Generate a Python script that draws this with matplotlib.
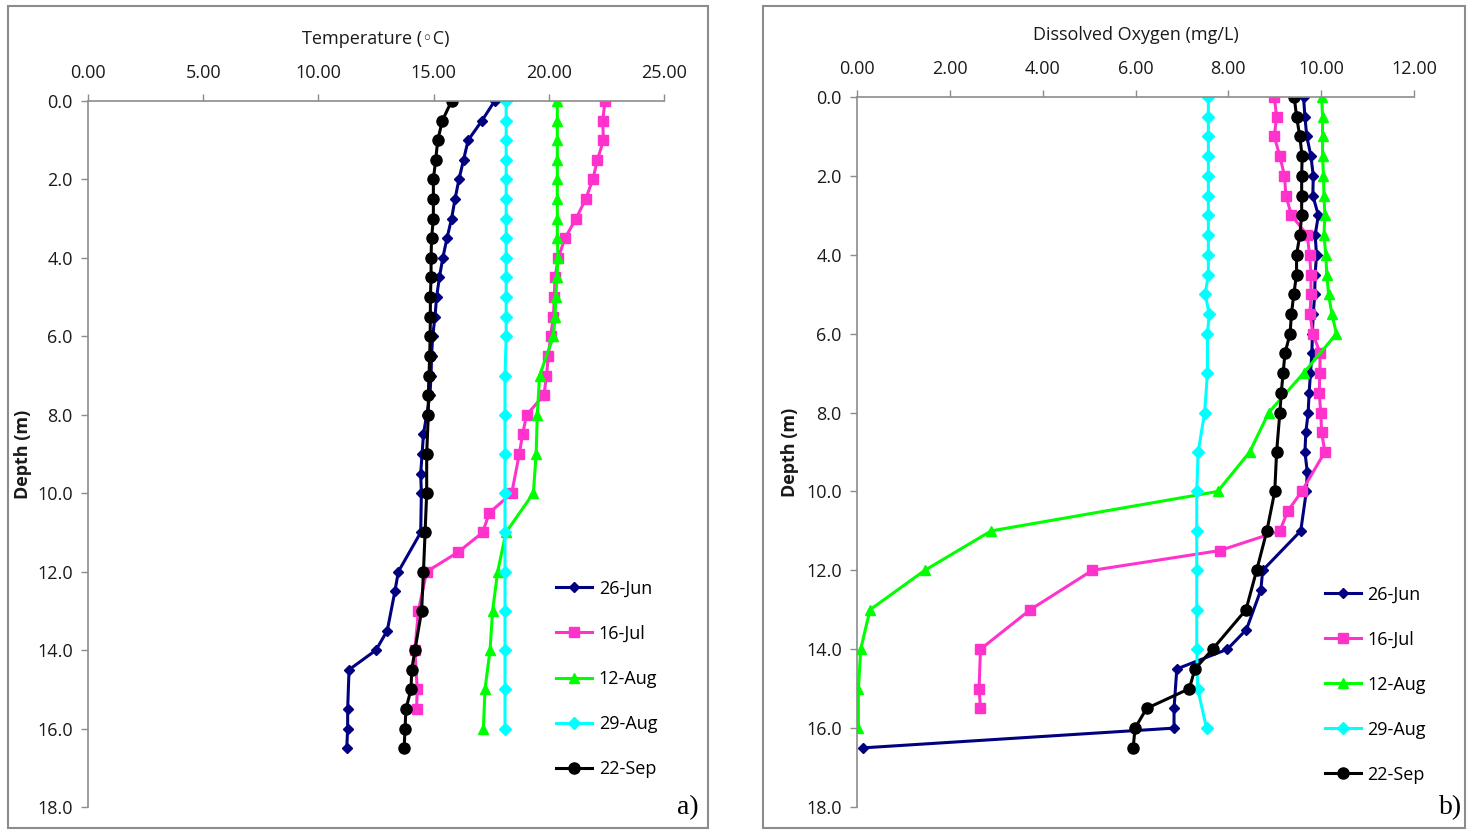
import matplotlib.pyplot as plt
from matplotlib.patches import Rectangle
from matplotlib.ticker import FormatStrFormatter

# profundidades de cada campaña (m)
depth_jun = [0.0, 0.5, 1.0, 1.5, 2.0, 2.5, 3.0, 3.5, 4.0, 4.5, 5.0, 5.5, 6.0, 6.5, 7.0,
             7.5, 8.0, 8.5, 9.0, 9.5, 10.0, 11.0, 12.0, 12.5, 13.5, 14.0, 14.5, 15.5, 16.0, 16.5]
depth_jul = [0.0, 0.5, 1.0, 1.5, 2.0, 2.5, 3.0, 3.5, 4.0, 4.5, 5.0, 5.5, 6.0, 6.5, 7.0,
             7.5, 8.0, 8.5, 9.0, 10.0, 10.5, 11.0, 11.5, 12.0, 13.0, 14.0, 15.0, 15.5]
depth_aug = [0.0, 0.5, 1.0, 1.5, 2.0, 2.5, 3.0, 3.5, 4.0, 4.5, 5.0, 5.5, 6.0,
             7.0, 8.0, 9.0, 10.0, 11.0, 12.0, 13.0, 14.0, 15.0, 16.0]
depth_sep = [0.0, 0.5, 1.0, 1.5, 2.0, 2.5, 3.0, 3.5, 4.0, 4.5, 5.0, 5.5, 6.0, 6.5, 7.0,
             7.5, 8.0, 9.0, 10.0, 11.0, 12.0, 13.0, 14.0, 14.5, 15.0, 15.5, 16.0, 16.5]

# temperatura (C)
temp_jun = [17.65, 17.1, 16.5, 16.3, 16.1, 15.93, 15.78, 15.58, 15.4, 15.25, 15.13, 15.06, 14.96,
            14.91, 14.89, 14.84, 14.7, 14.56, 14.5, 14.44, 14.47, 14.44, 13.47, 13.32, 12.99,
            12.5, 11.33, 11.27, 11.27, 11.23]
temp_jul = [22.44, 22.34, 22.37, 22.11, 21.91, 21.6, 21.18, 20.7, 20.41, 20.27, 20.24, 20.2, 20.08,
            19.98, 19.9, 19.79, 19.04, 18.86, 18.72, 18.39, 17.42, 17.13, 16.07, 14.7, 14.34,
            14.19, 14.29, 14.26]
temp_aug12 = [20.37, 20.37, 20.37, 20.37, 20.37, 20.37, 20.37, 20.37, 20.4, 20.35, 20.3, 20.27,
              20.2, 19.6, 19.5, 19.45, 19.33, 18.14, 17.78, 17.56, 17.45, 17.23, 17.16]
temp_aug29 = [18.15, 18.15, 18.15, 18.15, 18.15, 18.15, 18.15, 18.15, 18.15, 18.15, 18.15, 18.15,
              18.15, 18.1, 18.1, 18.1, 18.1, 18.1, 18.1, 18.1, 18.1, 18.1, 18.1]
temp_sep = [15.78, 15.38, 15.18, 15.09, 14.99, 14.99, 14.99, 14.91, 14.89, 14.89, 14.86, 14.86,
            14.85, 14.83, 14.8, 14.77, 14.77, 14.7, 14.7, 14.63, 14.56, 14.48, 14.19, 14.05,
            14.02, 13.8, 13.76, 13.72]

# oxigeno disuelto (mg/L)
do_jun = [9.62, 9.65, 9.69, 9.78, 9.83, 9.82, 9.94, 9.87, 9.9, 9.87, 9.86, 9.83, 9.81, 9.8, 9.77,
          9.74, 9.72, 9.67, 9.65, 9.7, 9.68, 9.56, 8.74, 8.7, 8.39, 7.98, 6.89, 6.83, 6.83, 0.14]
do_jul = [8.99, 9.04, 8.99, 9.11, 9.21, 9.24, 9.36, 9.7, 9.75, 9.78, 9.78, 9.76, 9.82, 9.98, 9.97,
          9.96, 9.99, 10.01, 10.08, 9.58, 9.28, 9.11, 7.81, 5.07, 3.73, 2.66, 2.63, 2.66]
do_aug12 = [10.01, 10.03, 10.03, 10.03, 10.05, 10.06, 10.08, 10.06, 10.1, 10.12, 10.16, 10.23,
            10.33, 9.62, 8.87, 8.46, 7.77, 2.89, 1.46, 0.28, 0.08, 0.03, 0.03]
do_aug29 = [7.57, 7.57, 7.57, 7.57, 7.57, 7.57, 7.57, 7.57, 7.57, 7.57, 7.5, 7.59, 7.55,
            7.55, 7.49, 7.35, 7.32, 7.32, 7.32, 7.32, 7.32, 7.34, 7.53]
do_sep = [9.42, 9.47, 9.54, 9.59, 9.58, 9.58, 9.58, 9.54, 9.47, 9.47, 9.41, 9.36, 9.33, 9.22,
          9.18, 9.14, 9.11, 9.04, 9.0, 8.83, 8.61, 8.38, 7.66, 7.28, 7.16, 6.24, 5.99, 5.95]

labels = ['26-Jun', '16-Jul', '12-Aug', '29-Aug', '22-Sep']
colors = ['#000080', '#FF33CC', '#00FF00', '#00FFFF', '#000000']
markers = ['D', 's', '^', 'D', 'o']
msizes = [5, 7.5, 7.5, 6, 8]
depths = [depth_jun, depth_jul, depth_aug, depth_aug, depth_sep]

W, H = 1472, 830
fig = plt.figure(figsize=(W / 100, H / 100), dpi=100)
plt.rcParams['font.family'] = ['Open Sans', 'DejaVu Sans']
gris = '#8c8c8c'


def panel(rect, series, xmax, xstep, xlabel, ylab_x, leg_anchor, letter, frame):
    ax = fig.add_axes(rect)
    for d, v, lab, c, m, ms in zip(depths, series, labels, colors, markers, msizes):
        ax.plot(v, d, color=c, marker=m, markersize=ms, lw=2.2, label=lab)
    ax.set_xlim(0, xmax)
    ax.set_ylim(18, 0)
    ax.set_xticks([i * xstep for i in range(int(round(xmax / xstep)) + 1)])
    ax.set_yticks(range(0, 19, 2))
    ax.xaxis.set_major_formatter(FormatStrFormatter('%.2f'))
    ax.yaxis.set_major_formatter(FormatStrFormatter('%.1f'))
    ax.xaxis.tick_top()
    ax.xaxis.set_label_position('top')
    for s in ['right', 'bottom']:
        ax.spines[s].set_visible(False)
    for s in ['left', 'top']:
        ax.spines[s].set_color(gris)
        ax.spines[s].set_linewidth(1.2)
    ax.tick_params(colors=gris, labelcolor='#1a1a1a', labelsize=13, length=5, width=1)
    ax.tick_params(axis='x', pad=9)
    ax.tick_params(axis='y', pad=6)
    ax.set_xlabel(xlabel, fontsize=13, color='#1a1a1a', labelpad=14)
    ax.set_ylabel('Depth (m)', fontsize=13, fontweight='bold', color='#1a1a1a')
    ax.yaxis.set_label_coords(ylab_x, 0.5)
    ax.legend(loc='upper left', bbox_to_anchor=leg_anchor, frameon=False, fontsize=13,
              labelspacing=1.5, handlelength=2.0, handletextpad=0.35, borderpad=0,
              borderaxespad=0)
    fig.text(letter[0] / W, 1 - letter[1] / H, letter[2], fontsize=20,
             family='Liberation Serif', ha='center', va='center')
    fig.add_artist(Rectangle((frame[0] / W, 1 - frame[3] / H), (frame[2] - frame[0]) / W,
                             (frame[3] - frame[1]) / H, transform=fig.transFigure,
                             fill=False, edgecolor=gris, lw=1.5))
    return ax


panel([88 / W, 1 - 807 / H, 576 / W, 706 / H],
      [temp_jun, temp_jul, temp_aug12, temp_aug29, temp_sep], 25, 5,
      'Temperature (\u25e6C)', -0.098, (0.813, 0.322), (688, 808, 'a)'), (8, 6, 708, 828))
panel([857 / W, 1 - 807 / H, 557 / W, 710 / H],
      [do_jun, do_jul, do_aug12, do_aug29, do_sep], 12, 2,
      'Dissolved Oxygen (mg/L)', -0.104, (0.84, 0.312), (1451, 808, 'b)'), (763, 6, 1465, 828))

plt.savefig('out.png', dpi=100)
